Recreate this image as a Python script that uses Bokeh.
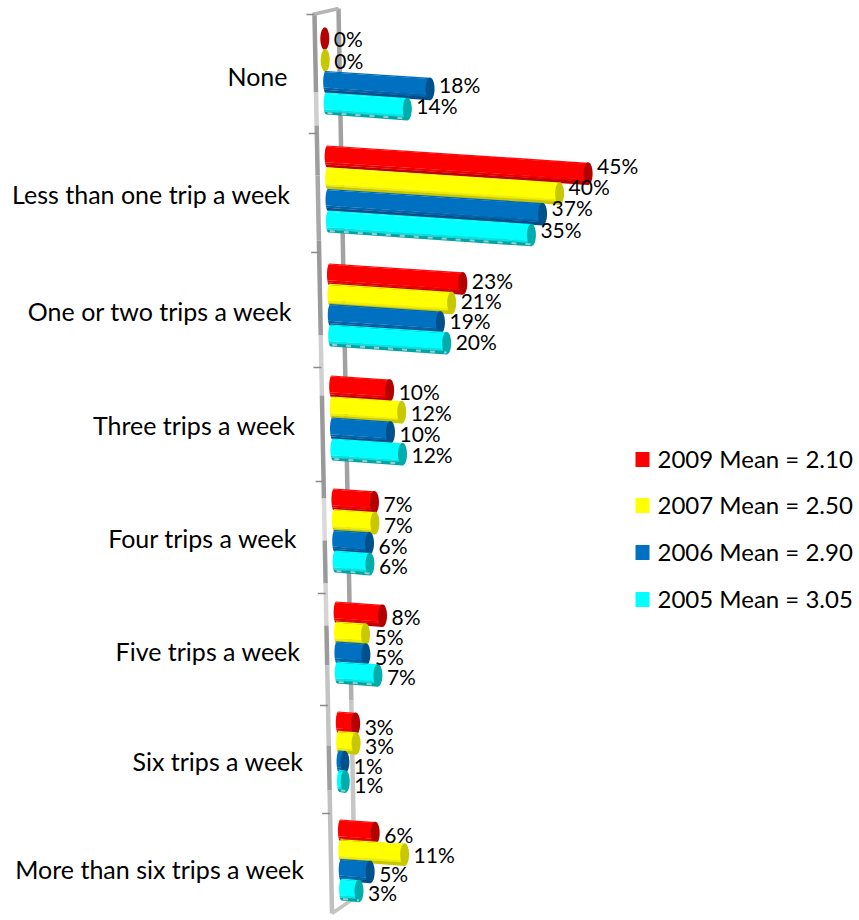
import numpy as np
from bokeh.plotting import figure
from bokeh.models import Range1d
from bokeh.core.properties import value
from bokeh.embed import file_html
from bokeh.resources import INLINE

# ---------- data ----------
categories = ["None", "Less than one trip a week", "One or two trips a week",
              "Three trips a week", "Four trips a week", "Five trips a week",
              "Six trips a week", "More than six trips a week"]
v2009 = [0, 45, 23, 10, 7, 8, 3, 6]
v2007 = [0, 40, 21, 12, 7, 5, 3, 11]
v2006 = [18, 37, 19, 10, 6, 5, 1, 5]
v2005 = [14, 35, 20, 12, 6, 7, 1, 3]
legend_labels = ["2009 Mean = 2.10", "2007 Mean = 2.50", "2006 Mean = 2.90", "2005 Mean = 3.05"]

series = [v2009, v2007, v2006, v2005]

# ---------- layout (page pixels on y, percent on x) ----------
W, H = 859, 920
PX = 5.8            # pixels per percent
ORIGIN = 321.0      # canvas x of 0 %
first_row = [38, 156, 274, 386, 499, 612, 722, 830]
row_step = [21.7, 21.7, 20.3, 21, 20.7, 20, 19.5, 19.7]
label_shift = [-3.5, 0, 0, 0, 0, 0, 0, -0.5]
cat_label_y = [75, 193, 310, 424, 537, 650, 760, 868]
cat_label_x = [287, 290, 292, 295, 297, 300, 303, 304]
tick_y = [14, 133, 252, 367, 481, 593, 705, 813]
legend_y = [459, 505, 552, 599]
SLOPE = 0.065
THICK = 22
CAP_RX = 4.5
FONT = value("Lato")

shades = [
    dict(main="#ff0000", light="#fa1010", mid="#ec0000", dark="#c00000", cap="#b40000"),
    dict(main="#ffff00", light="#fafa10", mid="#eeee00", dark="#c8c800", cap="#c8c800"),
    dict(main="#0070c0", light="#006cb8", mid="#0064ac", dark="#004f8a", cap="#00508c"),
    dict(main="#00ffff", light="#08f8f8", mid="#00e4e4", dark="#00a4a4", cap="#00acac"),
]
bands = [(0.0, 0.05, "light"), (0.05, 0.76, "main"), (0.76, 0.86, "mid"), (0.86, 1.0, "dark")]


def to_x(page_x):
    """page pixel -> percent units of the x range"""
    return (page_x - ORIGIN) / PX


def x_start(y):
    return 321.8 + 0.0197 * (y - 38)


p = figure(width=W, height=H, output_backend="svg", toolbar_location=None,
           x_range=Range1d(-ORIGIN / PX, (W - ORIGIN) / PX),
           y_range=Range1d(H, 0), min_border=0, outline_line_color=None)
p.axis.visible = False
p.grid.visible = False
p.background_fill_color = "#ffffff"
p.border_fill_color = "#ffffff"


# ---------- gray frame of the 3-D wall ----------
def front_x(y):
    return 314 + (y - 14) * 0.0195


def back_x(y):
    return 338 + (y - 8) * 0.0185


seg_f = [14, 92, 125, 175, 240, 335, 395, 498, 540, 583, 625, 665, 745, 790, 913]
tone_f = ["#9a9a9a", "#cfcfcf", "#9e9e9e", "#a8a8a8", "#9a9a9a", "#d0d0d0", "#9a9a9a",
          "#dadada", "#9a9a9a", "#d4d4d4", "#9a9a9a", "#c4c4c4", "#9e9e9e", "#c0c0c0"]
xs, ys, cs = [], [], []
for a, b, c in zip(seg_f[:-1], seg_f[1:], tone_f):
    xs.append([to_x(front_x(a)), to_x(front_x(b))]); ys.append([a, b]); cs.append(c)
p.multi_line(xs, ys, line_color=cs, line_width=4.5)

seg_b = [8, 640, 700, 897]
tone_b = ["#a2a2a2", "#b0b0b0", "#c6c6c6"]
xs, ys, cs = [], [], []
for a, b, c in zip(seg_b[:-1], seg_b[1:], tone_b):
    xs.append([to_x(back_x(a)), to_x(back_x(b))]); ys.append([a, b]); cs.append(c)
p.multi_line(xs, ys, line_color=cs, line_width=4.5)

p.multi_line([[to_x(front_x(14) - 2), to_x(back_x(8))], [to_x(front_x(913)), to_x(back_x(897))]],
             [[14, 8], [913, 897]], line_color=["#b4b4b4", "#c4c4c4"], line_width=3.5)
p.multi_line([[to_x(front_x(t) - 8), to_x(front_x(t))] for t in tick_y],
             [[t, t] for t in tick_y], line_color="#8a8a8a", line_width=1.5)


# ---------- cylinders ----------
def body_polygons(x0_px, yc, length_px, shade):
    out = []
    for f0, f1, key in bands:
        steps = np.linspace(f0, f1, 5)
        top = yc - THICK / 2
        dome = lambda f: 2.5 * (1 - np.sqrt(max(0.0, 1 - (2 * f - 1) ** 2)))
        left_x = [x0_px + dome(f) for f in steps]
        left_y = [top + f * THICK for f in steps]
        right_x = x0_px + length_px
        rt = top + SLOPE * length_px
        px_ = left_x + [right_x, right_x]
        py_ = left_y + [rt + f1 * THICK + 0.4, rt + f0 * THICK]
        out.append(([to_x(v) for v in px_], py_, shade[key]))
    return out


for i in range(len(categories)):
    for j, vals in enumerate(series):
        val = vals[i]
        yc = first_row[i] + j * row_step[i]
        x0 = x_start(yc)
        length = val * PX + 2.5
        polys = body_polygons(x0, yc, length, shades[j])
        p.patches([q[0] for q in polys], [q[1] for q in polys],
                  fill_color=[q[2] for q in polys], line_color=None)
        # end cap
        t = np.linspace(0, 2 * np.pi, 28)
        cx = x0 + length
        cy = yc + SLOPE * length
        p.patch([to_x(cx + CAP_RX * np.cos(a)) for a in t],
                [cy + (THICK / 2 + 0.3) * np.sin(a) for a in t],
                fill_color=shades[j]["cap"], line_color=None)
        if j == 3:
            top = yc - THICK / 2
            yb0 = top + THICK * 0.93
            p.line([to_x(x0 + 4), to_x(x0 + length)], [yb0, yb0 + SLOPE * length],
                   line_color="#8fd0d0", line_width=2, line_dash="5 9")

# ---------- value labels ----------
lx, ly, lt = [], [], []
for i in range(len(categories)):
    for j, vals in enumerate(series):
        val = vals[i]
        yc = first_row[i] + j * row_step[i]
        x0 = x_start(yc)
        length = val * PX + 2.5
        lx.append(to_x(x0 + length + CAP_RX + 4.5))
        ly.append(yc + 3.5 + 0.02 * length + label_shift[i])
        lt.append(f"{val}%")
p.text(x=lx, y=ly, text=lt, text_font=FONT, text_font_size="21px", text_color="#000000",
       text_align="left", text_baseline="middle")

# ---------- category labels ----------
p.text(x=[to_x(v) for v in cat_label_x], y=cat_label_y, text=categories, text_font=FONT,
       text_font_size="25px", text_color="#000000", text_align="right", text_baseline="middle")

# ---------- legend ----------
p.rect(x=[to_x(642)] * 4, y=legend_y, width=14, height=15, width_units="screen", height_units="screen",
       fill_color=[s["main"] for s in shades], line_color=None)
p.text(x=[to_x(657)] * 4, y=[v - 1 for v in legend_y], text=legend_labels, text_font=FONT,
       text_font_size="24px", text_color="#000000", text_align="left", text_baseline="middle")

open("out.html", "w").write(file_html(p, INLINE))
